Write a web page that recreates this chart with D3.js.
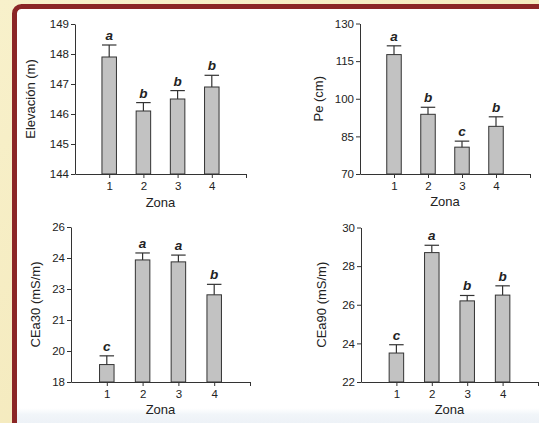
<!DOCTYPE html>
<html>
<head>
<meta charset="utf-8">
<script src="https://cdn.jsdelivr.net/npm/d3@7"></script>
<style>
	body { margin: 0; background: #f6eec4; }
	svg { display: block; }
	text { font-family: "Liberation Sans", Arial, sans-serif; fill: #222; }
</style>
</head>
<body>
<div id="chart"></div>
<script>
'use strict';
(function() {
	//Data
	var zonas = [1, 2, 3, 4];

	var elevacion = [147.9, 146.1, 146.5, 146.9];
	var elevacionErr = [0.4, 0.28, 0.28, 0.39];
	var elevacionLetras = ['a', 'b', 'b', 'b'];
	var elevacionTicks = [144, 145, 146, 147, 148, 149];

	var pe = [117.6, 93.8, 80.7, 89.0];
	var peErr = [3.5, 2.8, 2.4, 3.8];
	var peLetras = ['a', 'b', 'c', 'b'];
	var peTicks = [70, 85, 100, 115, 130];

	var cea30 = [18.9, 24.3, 24.2, 22.5];
	var cea30Err = [0.45, 0.36, 0.35, 0.54];
	var cea30Letras = ['c', 'a', 'a', 'b'];
	var cea30Ticks = [18, 19.6, 21.2, 22.8, 24.4, 26];

	var cea90 = [23.5, 28.7, 26.2, 26.5];
	var cea90Err = [0.43, 0.38, 0.28, 0.48];
	var cea90Letras = ['c', 'a', 'b', 'b'];
	var cea90Ticks = [22, 24, 26, 28, 30];

	var W = 539, H = 423;

	var svg = d3.select('#chart').append('svg')
		.attr('width', W)
		.attr('height', H);

	//Background and framed panel
	var defs = svg.append('defs');
	var bg = defs.append('linearGradient').attr('id', 'bg')
		.attr('x1', 0).attr('y1', 0).attr('x2', 1).attr('y2', 1);
	bg.append('stop').attr('offset', 0).attr('stop-color', '#f8f1cb');
	bg.append('stop').attr('offset', 1).attr('stop-color', '#f2e5b4');
	var panelFill = defs.append('linearGradient').attr('id', 'panel')
		.attr('gradientUnits', 'userSpaceOnUse')
		.attr('x1', 0).attr('y1', 0).attr('x2', 0).attr('y2', H);
	panelFill.append('stop').attr('offset', 0.965).attr('stop-color', '#ffffff');
	panelFill.append('stop').attr('offset', 0.98).attr('stop-color', '#f1f5f9');
	panelFill.append('stop').attr('offset', 1).attr('stop-color', '#edf2f7');

	svg.append('rect')
		.attr('width', W).attr('height', H)
		.attr('fill', 'url(#bg)');
	svg.append('rect')
		.attr('x', 14.5).attr('y', 6.5)
		.attr('width', 600).attr('height', H + 20)
		.attr('rx', 7)
		.attr('fill', 'url(#panel)')
		.attr('stroke', '#8b2626')
		.attr('stroke-width', 5);

	//Layout of each small chart
	var panels = [
		{values: elevacion, errs: elevacionErr, letras: elevacionLetras, ticks: elevacionTicks,
			label: 'Elevación (m)', x0: 75, x1: 246, yTop: 24, yBot: 174, labelX: 30, zonaY: 207},
		{values: pe, errs: peErr, letras: peLetras, ticks: peTicks,
			label: 'Pe (cm)', x0: 360, x1: 530, yTop: 23.5, yBot: 174, labelX: 318, zonaY: 206},
		{values: cea30, errs: cea30Err, letras: cea30Letras, ticks: cea30Ticks,
			label: 'CEa30 (mS/m)', x0: 71, x1: 250, yTop: 227, yBot: 382, labelX: 35, zonaY: 414},
		{values: cea90, errs: cea90Err, letras: cea90Letras, ticks: cea90Ticks,
			label: 'CEa90 (mS/m)', x0: 361, x1: 538, yTop: 227.5, yBot: 382, labelX: 321, zonaY: 414}
	];

	var barWidth = 14.5;
	var fmt = d3.format('.0f');

	panels.forEach(function(p) {
		var g = svg.append('g');

		var x = d3.scaleLinear()
			.domain([0, zonas.length + 1])
			.range([p.x0, p.x1]);
		var y = d3.scaleLinear()
			.domain(d3.extent(p.ticks))
			.range([p.yBot, p.yTop]);

		//Axes
		var yAxis = g.append('g')
			.attr('transform', 'translate(' + p.x0 + ',0)')
			.call(d3.axisLeft(y).tickValues(p.ticks).tickFormat(fmt)
				.tickSizeInner(4).tickSizeOuter(0).tickPadding(2));
		var xAxis = g.append('g')
			.attr('transform', 'translate(0,' + p.yBot + ')')
			.call(d3.axisBottom(x).tickValues(zonas.concat([zonas.length + 1]))
				.tickFormat(function(d) { return d <= zonas.length ? d : ''; })
				.tickSizeInner(4).tickSizeOuter(0).tickPadding(4));
		[yAxis, xAxis].forEach(function(a) {
			a.select('.domain').attr('stroke', '#333');
			a.selectAll('.tick line').attr('stroke', '#333');
			a.selectAll('.tick text')
				.style('font-family', '"Liberation Sans", Arial, sans-serif')
				.style('font-size', '11.5px')
				.attr('fill', '#222');
		});

		//Bars
		g.selectAll('rect.bar')
			.data(p.values)
			.enter().append('rect')
				.attr('class', 'bar')
				.attr('x', function(d, i) { return x(zonas[i]) - barWidth / 2; })
				.attr('y', function(d) { return y(d); })
				.attr('width', barWidth)
				.attr('height', function(d) { return p.yBot - y(d); })
				.attr('fill', '#c2c2c2')
				.attr('stroke', '#333')
				.attr('stroke-width', 1);

		//Upper error bars
		var err = g.selectAll('g.err')
			.data(p.values)
			.enter().append('g')
				.attr('class', 'err')
				.attr('stroke', '#333')
				.attr('stroke-width', 1.2);
		err.append('line')
			.attr('x1', function(d, i) { return x(zonas[i]); })
			.attr('x2', function(d, i) { return x(zonas[i]); })
			.attr('y1', function(d) { return y(d); })
			.attr('y2', function(d, i) { return y(d + p.errs[i]); });
		err.append('line')
			.attr('x1', function(d, i) { return x(zonas[i]) - barWidth / 2; })
			.attr('x2', function(d, i) { return x(zonas[i]) + barWidth / 2; })
			.attr('y1', function(d, i) { return y(d + p.errs[i]); })
			.attr('y2', function(d, i) { return y(d + p.errs[i]); });

		//Significance letters
		g.selectAll('text.letra')
			.data(p.values)
			.enter().append('text')
				.attr('class', 'letra')
				.attr('x', function(d, i) { return x(zonas[i]); })
				.attr('y', function(d, i) { return y(d + p.errs[i]) - 5; })
				.attr('text-anchor', 'middle')
				.style('font-size', '13.5px')
				.style('font-weight', 'bold')
				.style('font-style', 'italic')
				.text(function(d, i) { return p.letras[i]; });

		//Axis titles
		g.append('text')
			.attr('x', (p.x0 + p.x1) / 2)
			.attr('y', p.zonaY)
			.attr('text-anchor', 'middle')
			.style('font-size', '13px')
			.text('Zona');
		g.append('text')
			.attr('transform', 'translate(' + p.labelX + ',' + ((p.yTop + p.yBot) / 2) + ') rotate(-90)')
			.attr('text-anchor', 'middle')
			.attr('dy', '0.35em')
			.style('font-size', '13px')
			.text(p.label);
	});
})();
</script>
</body>
</html>
